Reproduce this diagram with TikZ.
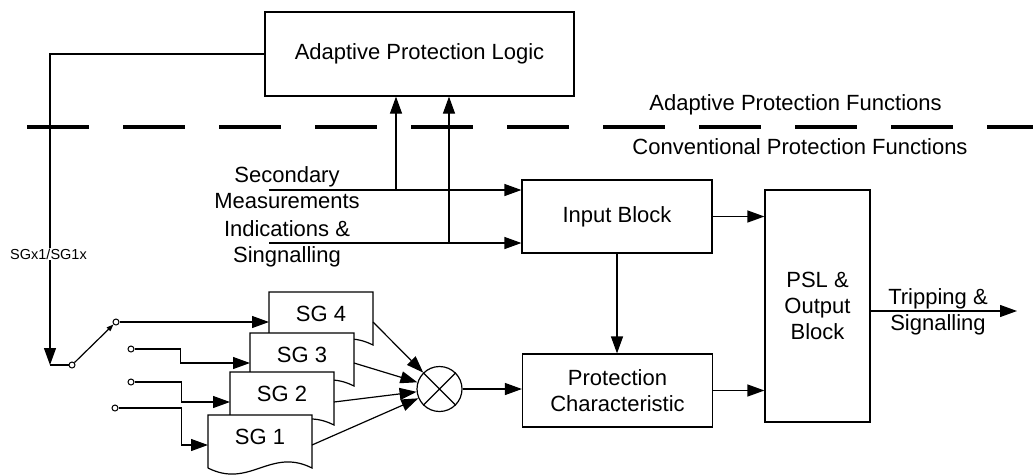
\documentclass[tikz,border=0pt]{standalone}
\usepackage{fontspec}
\setmainfont{Liberation Sans}
\usetikzlibrary{arrows.meta,calc}
\tikzset{
  ln/.style={line width=1.2pt, draw=black},
  arr/.style={ln, -{Triangle[length=17pt,width=12pt]}},
  smallarr/.style={ln, -{Triangle[length=7pt,width=5pt]}},
  box/.style={draw, line width=1.2pt, fill=white, align=center, inner sep=0pt},
  lbl/.style={align=center, inner sep=0pt},
  contact/.style={circle, draw, fill=white, line width=1pt, minimum size=6pt, inner sep=0pt},
  sepline/.style={line width=4pt, dash pattern=on 62pt off 34pt},
}
\newcommand\sgdoc[4]{% #1 name, #2 left x, #3 top y, #4 label
  \path[ln, fill=white] (#2,#3+53) -- (#2,#3) -- (#2+104,#3) -- (#2+104,#3+53)
    .. controls (#2+62.4,#3+32) and (#2+41.6,#3+74) .. (#2,#3+53);
  \node[lbl] (#1) at (#2+52,#3+22) {#4};
  \coordinate (#1i) at (#2,#3+30);
  \coordinate (#1o) at (#2+104,#3+30);
}
\begin{document}
\begin{tikzpicture}[x=1pt, y=-1pt, font=\fontsize{22}{26}\selectfont]
\useasboundingbox (0,0) rectangle (1033,475);

% separator
\coordinate (dl) at (27,127);
\coordinate (dr) at (1033,127);
\draw[sepline] (dl) -- (dr);
\node[lbl] (apf) at (795.5,105) {Adaptive Protection Functions};
\node[lbl] (cpf) at (800,147) {Conventional Protection Functions};

% main blocks
\node[box, minimum width=309pt, minimum height=84pt] (apl) at (419.5,54) {Adaptive Protection Logic};
\node[box, minimum width=190pt, minimum height=73pt] (inp) at (617,216.5) {Input Block};
\node[box, minimum width=190pt, minimum height=73pt] (prot) at (617.5,390.5) {Protection\\Characteristic};
\node[box, minimum width=105pt, minimum height=232pt] (psl) at (817.5,306) {PSL \&\\Output\\Block};

% inputs
\coordinate (s1) at (269,190);
\coordinate (s2) at (269,243);
\coordinate (t1) at (396,190);
\coordinate (t2) at (449,243);
\node[lbl] (secm) at (287,188) {Secondary\\Measurements};
\node[lbl] (indsig) at (287,244) {Indications \&\\Singnalling};
\draw[arr] (s1) -- (s1 -| inp.west);
\draw[arr] (s2) -- (s2 -| inp.west);
\draw[arr] (t1) -- (t1 |- apl.south);
\draw[arr] (t2) -- (t2 |- apl.south);

% setting group documents
\sgdoc{sg4}{269}{292}{SG 4}
\sgdoc{sg3}{250}{333}{SG 3}
\sgdoc{sg2}{230}{372}{SG 2}
\sgdoc{sg1}{208}{415}{SG 1}

% multiplier
\node[circle, draw, line width=1.2pt, minimum size=45pt, inner sep=0pt] (mult) at (439.5,389) {};
\draw[ln] (mult.45) -- (mult.225) (mult.135) -- (mult.315);
\draw[arr] (sg4o) -- (mult);
\draw[arr] (sg3o) -- (mult);
\draw[arr] (sg2o) -- (mult);
\draw[arr] (sg1o) -- (mult);
\draw[arr] (mult.east) -- (mult.east -| prot.west);

% block connections
\draw[arr] (inp.south) -- (inp.south |- prot.north);
\draw[arr] (inp.east) -- (inp.east -| psl.west);
\draw[arr] (prot.east) -- (prot.east -| psl.west);
\coordinate (out) at (1017,311);
\draw[arr] (psl.east |- out) -- (out);
\node[lbl] (trip) at (938,312) {Tripping \&\\Signalling};

% switch
\coordinate (corner) at (50,365);
\node[contact] (piv) at (72,365) {};
\node[contact] (c4) at (116,322) {};
\node[contact] (c3) at (131,349) {};
\node[contact] (c2) at (131,382) {};
\node[contact] (c1) at (115,408) {};
\draw[arr] (apl.west) -| (corner);
\draw[ln] (corner) -- (piv);
\draw[smallarr] (piv) -- (c4);
\draw[arr] (c4) -- (sg4i);
\draw[arr] (c3.east) -- ++(46,0) |- (sg3i);
\draw[arr] (c2.east) -- ++(47,0) |- (sg2i);
\draw[arr] (c1.east) -- ++(63,0) |- (sg1i);
\node[lbl, fill=white, inner sep=1pt, font=\fontsize{14.5}{17}\selectfont] (sgx) at (48.5,254) {SGx1/SG1x};
\end{tikzpicture}
\end{document}
